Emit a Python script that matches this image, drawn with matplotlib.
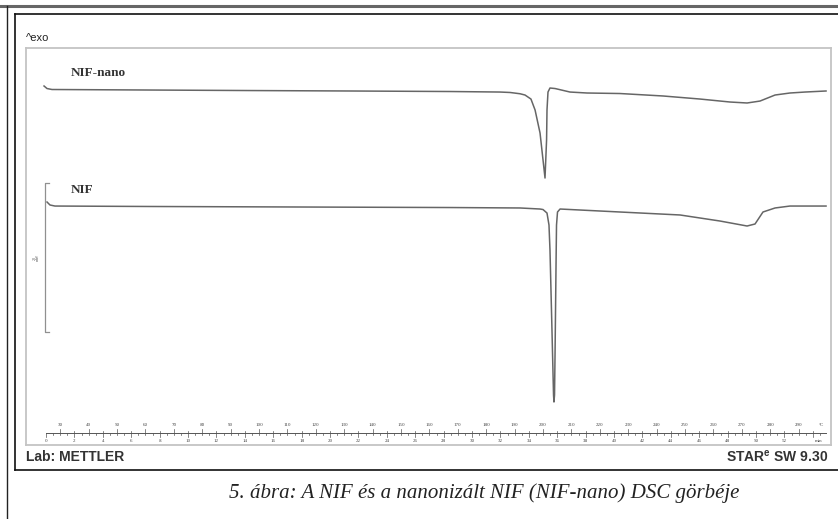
import matplotlib
matplotlib.use("Agg")
import matplotlib.pyplot as plt
import matplotlib.transforms as mtransforms
from matplotlib.lines import Line2D
import numpy as np

# DSC curves: time (min) vs heat flow (mW, arbitrary offset)
nano_t = [-0.14, 0.07, 0.42, 7.32, 14.37, 21.41, 28.45, 31.97, 32.68, 33.38, 33.73, 34.15,
          34.44, 34.79, 35.00, 35.14, 35.25, 35.28, 35.35, 35.49, 35.85, 36.90, 38.10,
          40.42, 43.45, 46.06, 48.17, 49.37, 50.28, 51.34, 52.39, 53.45, 54.93]
nano_mw = [48.18, 47.84, 47.71, 47.64, 47.57, 47.51, 47.44, 47.37, 47.31, 47.14, 46.97, 46.43,
           44.96, 41.87, 38.25, 35.83, 40.93, 44.96, 47.37, 47.91, 47.84, 47.37, 47.24,
           47.17, 46.84, 46.43, 46.03, 45.90, 46.16, 46.97, 47.24, 47.37, 47.51]

nif_t = [0.07, 0.28, 0.63, 7.32, 17.89, 28.45, 33.38, 34.79, 35.00, 35.28, 35.42, 35.49,
         35.63, 35.74, 35.77, 35.81, 35.85, 35.92, 35.95, 36.02, 36.20, 40.42, 44.65,
         47.46, 49.37, 49.93, 50.49, 51.34, 52.39, 54.93]
nif_mw = [32.61, 32.21, 32.07, 32.01, 31.94, 31.87, 31.81, 31.67, 31.60, 31.13, 29.52, 26.17,
          15.43, 6.71, 5.77, 6.71, 12.75, 24.83, 29.52, 31.27, 31.67, 31.27, 30.87,
          30.06, 29.39, 29.66, 31.27, 31.81, 32.07, 32.07]

# ruler: 25 degC start, 5 degC/min
t_start_temp = 25
heat_rate = 5
temp_labels = list(range(30, 300, 10))
min_labels = list(range(0, 54, 2))
scale_bar_mw = 20
scale_bar_top = 35.16

W, H = 838, 519
fig = plt.figure(figsize=(W / 100, H / 100), dpi=100)
fig.patch.set_facecolor("white")

def fx(x):
    return x / W

def fy(y):
    return 1 - y / H

# page / frame lines
for xs, ys, c, lw in [([0, W], [6, 6], "#666666", 2.2),
                      ([7, 7], [6, H], "#222222", 1.0),
                      ([15, 15], [14, 470], "#111111", 1.2),
                      ([15, W], [14, 14], "#111111", 1.2),
                      ([15, W], [470, 470], "#111111", 1.2)]:
    fig.add_artist(Line2D([fx(v) for v in xs], [fy(v) for v in ys], color=c, lw=lw,
                          transform=fig.transFigure))

ax = fig.add_axes([fx(26), fy(445), fx(831) - fx(26), fy(48) - fy(445)])
ax.set_xlim(-1.41, 55.28)
ax.set_ylim(0, 53.28)
ax.set_xticks([])
ax.set_yticks([])
for s in ax.spines.values():
    s.set_color("#c4c4c4")
    s.set_linewidth(1.3)

ax.plot(nano_t, nano_mw, color="#666666", lw=1.1)
ax.plot(nif_t, nif_mw, color="#666666", lw=1.1)

ax.text(1.76, 49.9, "NIF-nano", fontfamily="Liberation Serif", fontweight="bold",
        fontsize=9.5, color="#333333", va="center")
ax.text(1.76, 34.2, "NIF", fontfamily="Liberation Serif", fontweight="bold",
        fontsize=9.5, color="#333333", va="center")

# scale bar
sb_x = -0.07
ax.plot([sb_x + 0.3, sb_x, sb_x, sb_x + 0.3],
        [scale_bar_top, scale_bar_top, scale_bar_top - scale_bar_mw, scale_bar_top - scale_bar_mw],
        color="#909090", lw=0.9)
ax.text(sb_x - 0.6, scale_bar_top - scale_bar_mw / 2, f"{scale_bar_mw}\nmW", rotation=90,
        fontsize=3, fontfamily="Liberation Serif", ha="center", va="center", color="#555555",
        linespacing=0.9)

# ruler at the bottom
tr = mtransforms.blended_transform_factory(ax.transData, ax.transAxes)
y0 = 0.030
t_end = 54.9
ax.plot([0, t_end], [y0, y0], color="#555555", lw=0.7, transform=tr)
for t in np.arange(0, t_end, 0.5):
    L = 0.010 if abs(t / 2 - round(t / 2)) < 1e-6 else 0.005
    ax.plot([t, t], [y0, y0 - L], color="#555555", lw=0.5, transform=tr)
for T in range(30, 300, 5):
    t = (T - t_start_temp) / heat_rate
    L = 0.010 if T % 10 == 0 else 0.005
    ax.plot([t, t], [y0, y0 + L], color="#555555", lw=0.5, transform=tr)
for T in temp_labels:
    ax.text((T - t_start_temp) / heat_rate, 0.050, str(T), transform=tr, fontsize=3.6,
            fontfamily="Liberation Serif", ha="center", va="center", color="#444444")
ax.text(54.6, 0.050, "°C", transform=tr, fontsize=3.6, fontfamily="Liberation Serif",
        ha="center", va="center", color="#444444")
for m in min_labels:
    ax.text(m, 0.010, str(m), transform=tr, fontsize=3.6, fontfamily="Liberation Serif",
            ha="center", va="center", color="#444444")
ax.text(54.4, 0.010, "min", transform=tr, fontsize=3.6, fontfamily="Liberation Serif",
        ha="center", va="center", color="#444444")

# labels around the plot
fig.text(fx(26), fy(38), "^exo", fontsize=8, fontfamily="Liberation Sans",
         color="#222222", va="center")
fig.text(fx(26), fy(457), "Lab: METTLER", fontsize=10, fontfamily="Liberation Sans",
         fontweight="bold", color="#333333", va="center")
fig.text(fx(828), fy(457), r"STAR$^\mathregular{e}$ SW 9.30", fontsize=10,
         fontfamily="Liberation Sans", fontweight="bold", color="#333333",
         va="center", ha="right")
fig.text(fx(484), fy(493), "5. ábra: A NIF és a nanonizált NIF (NIF-nano) DSC görbéje",
         fontsize=15, fontfamily="Liberation Serif", fontstyle="italic",
         color="#222222", va="center", ha="center")

fig.savefig("out.png", dpi=100, facecolor="white")
